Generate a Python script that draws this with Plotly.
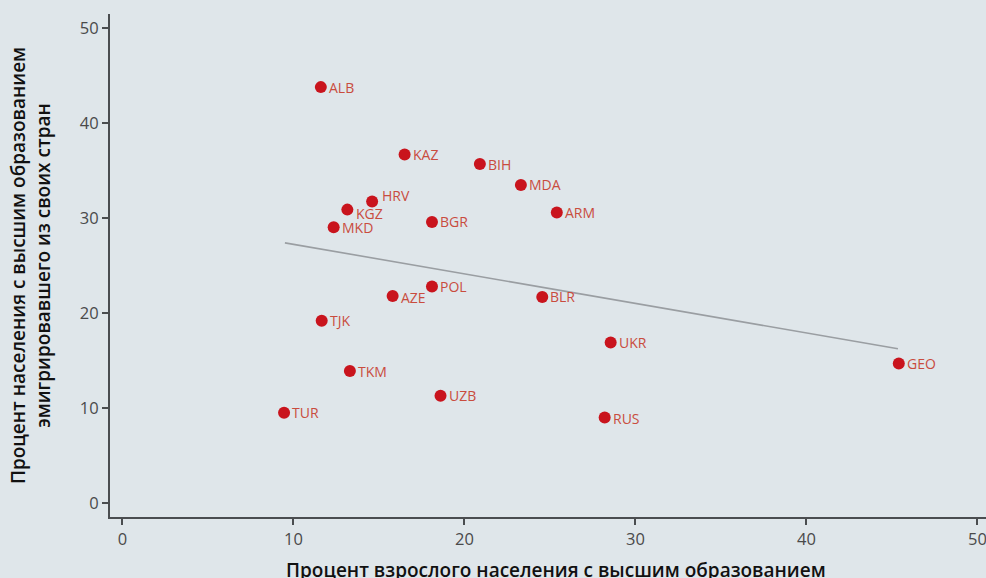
import plotly.graph_objects as go

countries = ["ALB", "KAZ", "BIH", "MDA", "HRV", "KGZ", "ARM", "MKD", "BGR",
             "POL", "AZE", "BLR", "TJK", "UKR", "GEO", "TKM", "UZB", "TUR", "RUS"]
edu_pct = [11.6, 16.5, 20.9, 23.3, 14.6, 13.15, 25.4, 12.35, 18.1,
           18.1, 15.8, 24.55, 11.65, 28.55, 45.4, 13.3, 18.6, 9.45, 28.2]
emig_pct = [43.8, 36.7, 35.7, 33.5, 31.75, 30.9, 30.6, 29.05, 29.6,
            22.8, 21.8, 21.7, 19.2, 16.9, 14.7, 13.9, 11.3, 9.5, 9.0]
# label offsets in pixels (dx, dy) relative to the marker
label_dx = [6, 6, 6, 6, 8, 7, 6, 6, 6, 6, 6, 6, 6, 6, 6, 6, 6, 6, 6]
label_dy = [0, 0, 0, 0, 6, -4, 0, 0, 0, 0, -1, 0, 0, 0, 0, 0, 0, 0, -1]

trend_x = [9.5, 45.35]
trend_y = [27.4, 16.25]

x_ticks = [0, 10, 20, 30, 40, 50]
y_ticks = [0, 10, 20, 30, 40, 50]

x_title = "Процент взрослого населения с высшим образованием"
y_title = "Процент населения с высшим образованием<br>эмигрировавшего из своих стран"

bg = "#dfe6ea"
FONT = "Open Sans, sans-serif"

fig = go.Figure()
fig.add_trace(go.Scatter(
    x=trend_x, y=trend_y, mode="lines",
    line=dict(color="#9a9ea2", width=1.6),
    hoverinfo="skip", showlegend=False))
fig.add_trace(go.Scatter(
    x=edu_pct, y=emig_pct, mode="markers",
    marker=dict(size=12, color="#c9141d"),
    cliponaxis=False, showlegend=False))

for c, x, y, dx, dy in zip(countries, edu_pct, emig_pct, label_dx, label_dy):
    fig.add_annotation(x=x, y=y, text=c, showarrow=False,
                       xanchor="left", yanchor="middle",
                       xshift=dx, yshift=dy,
                       font=dict(family=FONT, size=14, color="#c94c3e"))

fig.add_annotation(x=0.5, y=0, xref="paper", yref="paper", text=x_title,
                   showarrow=False, xanchor="center", yanchor="top",
                   xshift=8, yshift=-38,
                   font=dict(size=19, color="#111", family=FONT, weight=600))

fig.update_layout(
    width=986, height=578,
    margin=dict(l=110, r=0, t=14, b=61),
    paper_bgcolor=bg, plot_bgcolor=bg,
    font=dict(family=FONT, color="#555"),
    showlegend=False,
)
fig.update_xaxes(
    range=[-0.73, 50.5], tickvals=x_ticks, automargin=False,
    ticklabeloverflow="allow",
    showgrid=False, zeroline=False,
    showline=True, linecolor="#4a4d50", linewidth=2,
    ticks="outside", ticklen=6, tickwidth=2, tickcolor="#4a4d50",
    tickfont=dict(size=16.5, color="#4a4a4a", family=FONT),
)
fig.update_yaxes(
    range=[-1.47, 51.5], tickvals=y_ticks, automargin=False,
    showgrid=False, zeroline=False,
    showline=True, linecolor="#4a4d50", linewidth=2,
    ticks="outside", ticklen=6, tickwidth=2, tickcolor="#4a4d50",
    tickfont=dict(size=16.5, color="#4a4a4a", family=FONT),
    title=dict(text=y_title,
               font=dict(size=19, color="#111", family=FONT, weight=600),
               standoff=24),
)

fig.write_html(
    "out.html",
    config={"displayModeBar": False},
    post_script="document.body.style.margin='0';document.body.style.overflow='hidden';"
                "document.body.style.background='" + bg + "';",
)
